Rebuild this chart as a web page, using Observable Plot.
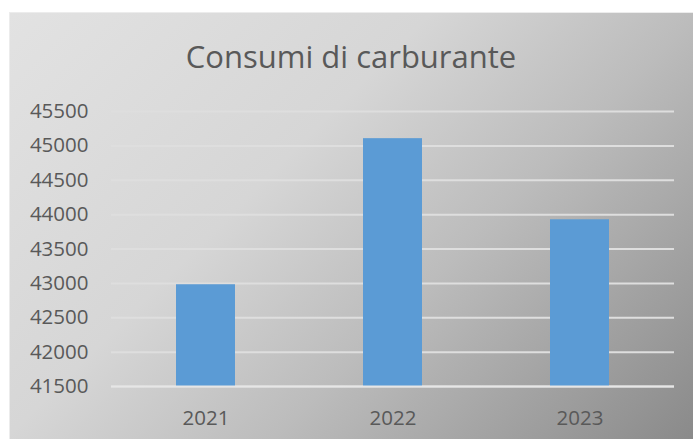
<!DOCTYPE html>
<html>
<head>
<meta charset="utf-8">
<script src="https://cdn.jsdelivr.net/npm/d3@7"></script>
<script src="https://cdn.jsdelivr.net/npm/@observablehq/plot@0.6"></script>
<style>
  html, body { margin: 0; padding: 0; background: #ffffff; }
  #wrap { position: relative; width: 693px; height: 439px; overflow: hidden; background: #ffffff; }
  #bg { position: absolute; left: 9px; top: 12px; width: 684px; height: 427px;
        background: linear-gradient(135deg, #e2e2e2 0%, #d6d6d6 38%, #bcbcbc 62%, #8a8a8a 100%);
        border-top: 1px solid #ececec; border-left: 1px solid #ececec; box-sizing: border-box; }
  #title { position: absolute; left: 9px; width: 684px; top: 35px; text-align: center;
           font-family: "Open Sans", sans-serif; font-size: 31px; color: #595959; line-height: 42px; }
  #chart { position: absolute; left: 0; top: 0; }
</style>
</head>
<body>
<div id="wrap">
  <div id="bg"></div>
  <div id="title">Consumi di carburante</div>
  <div id="chart"></div>
</div>
<script>
const years = ["2021", "2022", "2023"];
const consumi = [42980, 45105, 43925];
const yTicks = [41500, 42000, 42500, 43000, 43500, 44000, 44500, 45000, 45500];

const data = years.map((y, i) => ({ year: y, value: consumi[i] }));
const yMin = yTicks[0];
const yMax = yTicks[yTicks.length - 1];

const chart = Plot.plot({
  width: 693,
  height: 439,
  marginLeft: 111,
  marginRight: 19,
  marginTop: 111,
  marginBottom: 53,
  style: { background: "transparent", fontFamily: "Open Sans, sans-serif", fontSize: "20.5px", color: "#595959" },
  x: { domain: years, paddingInner: 0.684, paddingOuter: 0.342, label: null },
  y: { domain: [yMin, yMax], label: null },
  marks: [
    Plot.ruleY(yTicks, { stroke: "#dedede", strokeWidth: 2 }),
    Plot.barY(data, { x: "year", y1: yMin, y2: "value", fill: "#5b9bd5" }),
    Plot.ruleY([yMin], { stroke: "#e6e6e6", strokeWidth: 2 }),
    Plot.axisY({ ticks: yTicks, tickSize: 0, tickPadding: 23, tickFormat: d => String(d), fill: "#595959", label: null }),
    Plot.axisX({ tickSize: 0, tickPadding: 24, fill: "#595959", label: null })
  ]
});
document.getElementById("chart").appendChild(chart);
</script>
</body>
</html>
